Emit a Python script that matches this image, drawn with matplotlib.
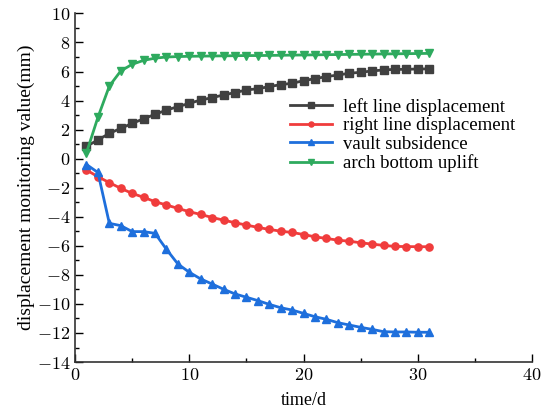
import matplotlib
matplotlib.use("Agg")
import matplotlib.pyplot as plt
from matplotlib.ticker import MultipleLocator, FuncFormatter

plt.rcParams['font.family'] = ['Liberation Serif', 'DejaVu Serif']
plt.rcParams['mathtext.fontset'] = 'cm'

# monitoring days
days = list(range(1, 32))

left_line = [0.85, 1.29, 1.74, 2.09, 2.43, 2.75, 3.05, 3.35, 3.58, 3.81,
             4.04, 4.20, 4.39, 4.55, 4.73, 4.82, 4.96, 5.10, 5.19, 5.37,
             5.51, 5.65, 5.76, 5.88, 5.95, 6.04, 6.11, 6.15, 6.15, 6.18, 6.18]
right_line = [-0.78, -1.24, -1.65, -2.04, -2.39, -2.66, -2.96, -3.19, -3.42, -3.65,
              -3.84, -4.05, -4.23, -4.41, -4.57, -4.73, -4.87, -4.99, -5.08, -5.22,
              -5.38, -5.49, -5.61, -5.68, -5.79, -5.88, -5.97, -6.04, -6.05, -6.06, -6.06]
vault = [-0.40, -0.95, -4.45, -4.61, -5.02, -5.02, -5.14, -6.24, -7.25, -7.82,
         -8.28, -8.63, -8.99, -9.31, -9.54, -9.77, -10.03, -10.26, -10.42, -10.65,
         -10.88, -11.06, -11.29, -11.45, -11.61, -11.75, -11.91, -11.93, -11.93, -11.95, -11.95]
arch = [0.41, 2.85, 5.00, 6.04, 6.50, 6.77, 6.92, 7.00, 7.03, 7.05,
        7.06, 7.07, 7.08, 7.09, 7.10, 7.10, 7.11, 7.12, 7.13, 7.14,
        7.15, 7.16, 7.17, 7.18, 7.19, 7.20, 7.21, 7.22, 7.23, 7.24, 7.25]

series = [
    ("left line displacement", left_line, "#404040", "s"),
    ("right line displacement", right_line, "#f03c3c", "o"),
    ("vault subsidence", vault, "#1e6fdc", "^"),
    ("arch bottom uplift", arch, "#2eaa5e", "v"),
]

fig = plt.figure(figsize=(5.44, 4.2), dpi=100)
ax = fig.add_axes([0.138, 0.138, 0.84, 0.83])

for label, vals, color, mk in series:
    ax.plot(days, vals, color=color, marker=mk, markersize=5.2, linewidth=2, label=label)

ax.set_xlim(0, 40)
ax.set_ylim(-14, 10)
ax.xaxis.set_major_locator(MultipleLocator(10))
ax.xaxis.set_minor_locator(MultipleLocator(5))
ax.yaxis.set_major_locator(MultipleLocator(2))
ax.yaxis.set_minor_locator(MultipleLocator(1))
fmt = FuncFormatter(lambda v, p: r'$%d$' % v)
ax.xaxis.set_major_formatter(fmt)
ax.yaxis.set_major_formatter(fmt)
ax.tick_params(which='major', direction='in', length=6, width=1, labelsize=13)
ax.tick_params(which='minor', direction='in', length=3, width=1)

ax.spines['top'].set_visible(False)
ax.spines['right'].set_visible(False)
for s in ('left', 'bottom'):
    ax.spines[s].set_linewidth(1.2)
    ax.spines[s].set_color('#333333')

ax.set_xlabel('time/d', fontsize=13, labelpad=6)
ax.set_ylabel('displacement monitoring value(mm)', fontsize=14, labelpad=1)

ax.legend(loc='upper left', bbox_to_anchor=(0.455, 0.78), frameon=False,
          fontsize=13.5, handlelength=2.2, handletextpad=0.6, labelspacing=0.08,
          borderaxespad=0, markerscale=0.7)

fig.savefig('out.png', dpi=100)
